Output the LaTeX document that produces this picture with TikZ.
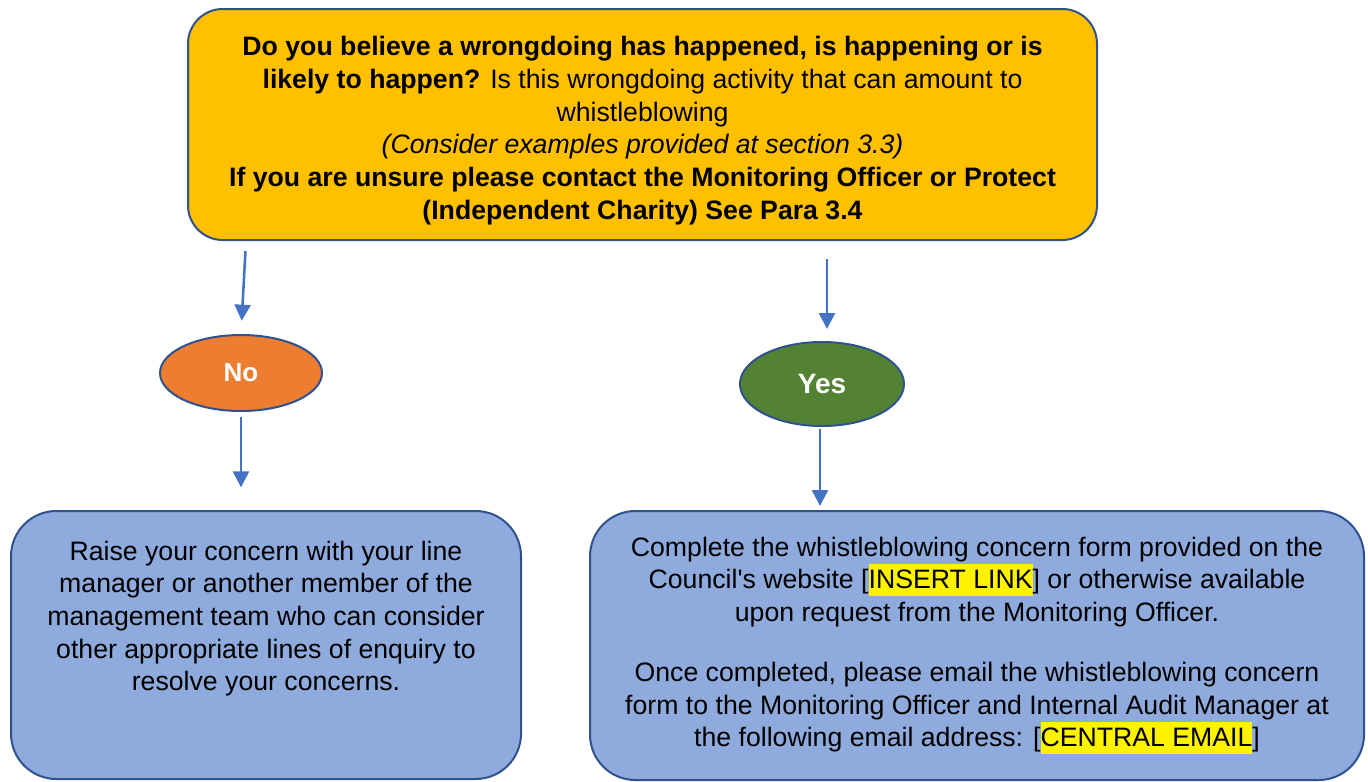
\documentclass[tikz,border=0pt]{standalone}
\usepackage{fontspec}
\setmainfont{Liberation Sans}
\usetikzlibrary{shapes.geometric,arrows.meta}
\definecolor{qgold}{HTML}{FFC000}
\definecolor{edgeblue}{HTML}{2F528F}
\definecolor{arrowblue}{HTML}{4472C4}
\definecolor{boxblue}{HTML}{8FAADC}
\definecolor{noorange}{HTML}{ED7D31}
\definecolor{yesgreen}{HTML}{548235}
\newcommand{\hilite}[1]{{\setlength{\fboxsep}{0pt}\colorbox{yellow}{\rule[-5.5pt]{0pt}{24pt}#1}}}
\begin{document}
\begin{tikzpicture}[x=0.75pt,y=-0.75pt,
    outline/.style={draw=edgeblue, line width=1.5pt},
    goldbox/.style={outline, fill=qgold, rounded corners=26pt, inner sep=0pt,
        minimum width=681.75pt, minimum height=173.25pt},
    bluebox/.style={outline, fill=boxblue, rounded corners=34pt, inner sep=0pt},
    answer/.style={outline, ellipse, inner sep=0pt, text=white, font=\bfseries},
    flow/.style={draw=arrowblue, line width=1.9pt, -{Triangle[length=12pt,width=12pt]}},
    every node/.append style={font=\fontsize{20}{24.5}\selectfont}]
    \useasboundingbox (0,0) rectangle (1368,782);
    % question
    \node[goldbox] (ques) at (642.5,124.5) {};
    \node[align=center, inner sep=0pt] (questxt) at ([yshift=-4.5pt]ques.center)
        {\textbf{Do you believe a wrongdoing has happened, is happening or is}\\
        \textbf{likely to happen?} Is this wrongdoing activity that can amount to\\
        whistleblowing\\
        \textit{(Consider examples provided at section 3.3)}\\
        \textbf{If you are unsure please contact the Monitoring Officer or Protect}\\
        \textbf{(Independent Charity) See Para 3.4}};
    % answers
    \node[answer, fill=noorange, minimum width=121.5pt, minimum height=57pt,
        font=\fontsize{19.5}{22}\selectfont\bfseries] (no) at (241,373) {No};
    \node[answer, fill=yesgreen, minimum width=123pt, minimum height=63pt,
        font=\fontsize{21}{24}\selectfont\bfseries] (yes) at (822,384) {Yes};
    % outcome boxes
    \node[bluebox, minimum width=382.5pt, minimum height=201pt] (raise) at (266,645) {};
    \node[anchor=north, align=center, inner sep=0pt] (raisetxt) at ([yshift=-23pt]raise.north)
        {Raise your concern with your line\\
        manager or another member of the\\
        management team who can consider\\
        other appropriate lines of enquiry to\\
        resolve your concerns.};
    \node[bluebox, minimum width=580.5pt, minimum height=201.75pt, align=center] (form) at (977,645.5)
        {Complete the whistleblowing concern form provided on the\\
        Council\textquotesingle s website [\hilite{INSERT LINK}] or otherwise available\\
        upon request from the Monitoring Officer.\\[20.5pt]
        Once completed, please email the whistleblowing concern\\
        form to the Monitoring Officer and Internal Audit Manager at\\
        the following email address: [\hilite{CENTRAL EMAIL}]};
    % arrows
    \draw[flow, shorten <=7.5pt, shorten >=10pt] ([xshift=3.75pt]no.north |- ques.south) -- (no.north);
    \draw[flow, shorten <=13.5pt, shorten >=9pt] ([xshift=3.75pt]yes.north |- ques.south) -- ([xshift=3.75pt]yes.north);
    \draw[flow, shorten <=3.5pt, shorten >=17pt] (no.south) -- (no.south |- raise.north);
    \draw[flow, shorten <=1.5pt, shorten >=3pt] ([xshift=-1.5pt]yes.south) -- ([xshift=-1.5pt]yes.south |- form.north);
\end{tikzpicture}
\end{document}
